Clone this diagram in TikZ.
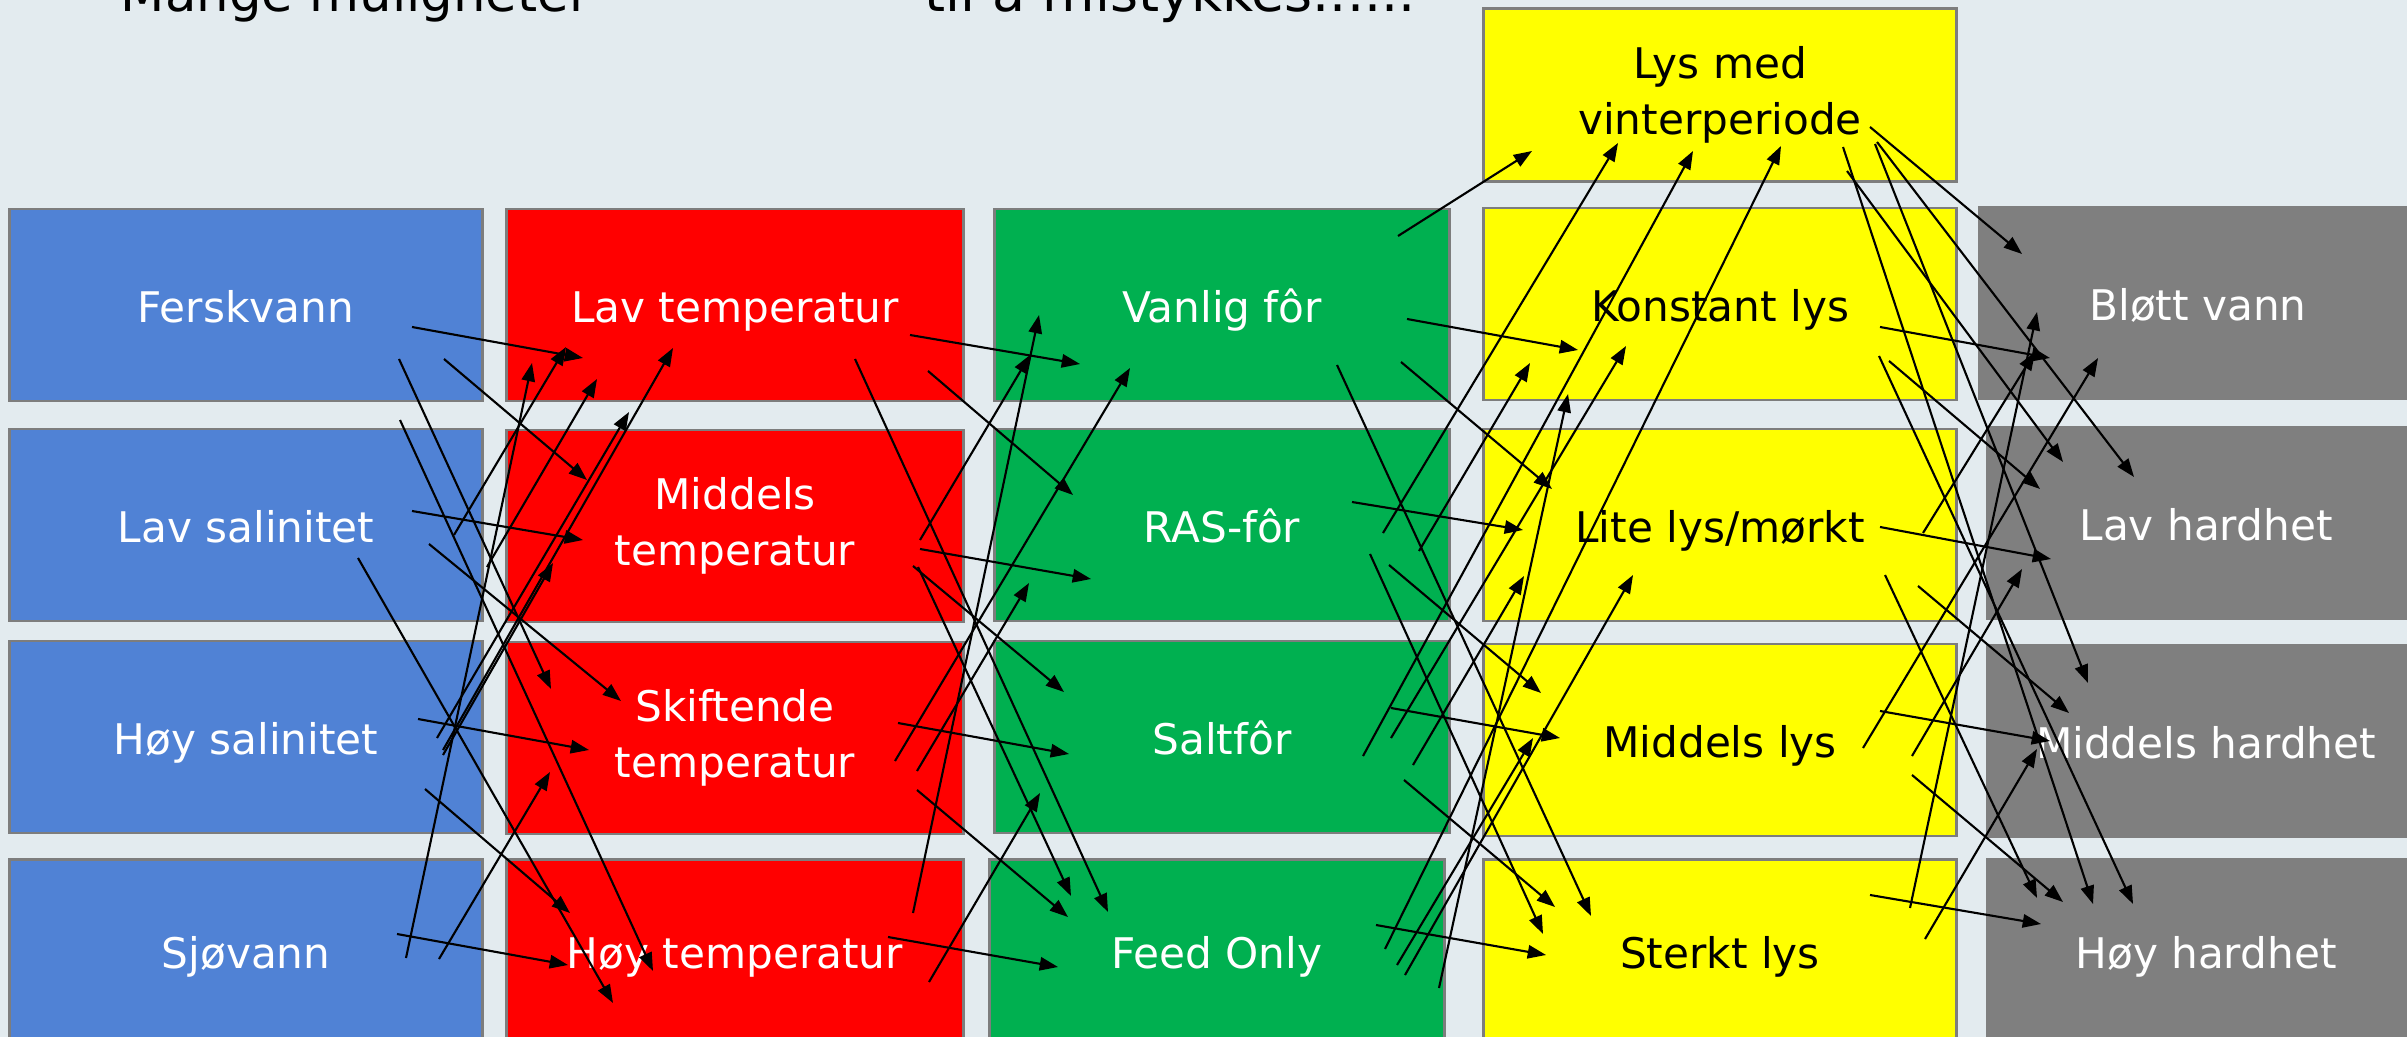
\documentclass[tikz,border=0pt]{standalone}
\usepackage{fontspec}
\setmainfont{DejaVu Sans}
\usetikzlibrary{arrows.meta}

\definecolor{bakgrunn}{RGB}{227,235,239}
\definecolor{blaa}{RGB}{80,130,213}
\definecolor{roed}{RGB}{255,0,0}
\definecolor{groenn}{RGB}{0,176,80}
\definecolor{gul}{RGB}{255,255,0}
\definecolor{graa}{RGB}{127,127,127}
\definecolor{kant}{RGB}{125,125,125}

\begin{document}
\begin{tikzpicture}[x=0.01cm,y=-0.01cm,
  felt/.style={draw=kant,line width=0.8pt,inner sep=0pt,align=center,
    minimum height=1.92cm,text=white,text height=10.2pt,text depth=0pt,
    font=\fontsize{12pt}{16pt}\selectfont},
  tolinjer/.style={text height=,text depth=},
  feltblaa/.style={felt,fill=blaa,minimum width=4.72cm},
  feltroed/.style={felt,fill=roed,minimum width=4.56cm},
  feltgroenn/.style={felt,fill=groenn,minimum width=4.55cm},
  feltgul/.style={felt,fill=gul,minimum width=4.72cm,text=black},
  feltgraa/.style={felt,fill=graa,draw=graa,minimum width=4.37cm},
  nederst/.style={minimum height=1.83cm},
  pil/.style={draw=black,line width=0.6pt,-{Triangle[length=5.2pt,width=3.8pt]}}]

\useasboundingbox (0,0) rectangle (2407,1037);
\fill[bakgrunn] (0,0) rectangle (2407,1037);
\clip (0,0) rectangle (2407,1037);

%title, cut at the top:
\node[anchor=base west,inner sep=0pt,font=\fontsize{14.6pt}{18pt}\selectfont] (titel1) at (120,12) {Mange muligheter};
\node[anchor=base west,inner sep=0pt,font=\fontsize{15.3pt}{18pt}\selectfont] (titel2) at (924,12) {til å mistykkes......};

%vann
\node[feltblaa] (fersk) at (246,305) {Ferskvann};
\node[feltblaa] (lavsal) at (246,525) {Lav salinitet};
\node[feltblaa] (hoysal) at (246,737) {Høy salinitet};
\node[feltblaa,nederst] (sjo) at (246,951) {Sjøvann};

%temperatur
\node[feltroed] (lavtemp) at (735,305) {Lav temperatur};
\node[feltroed,tolinjer] (midtemp) at (735,526) {Middels\\temperatur};
\node[feltroed,tolinjer] (skiftemp) at (735,738) {Skiftende\\temperatur};
\node[feltroed,nederst] (hoytemp) at (735,951) {Høy temperatur};

%fôr
\node[feltgroenn] (vanlig) at (1222,305) {Vanlig fôr};
\node[feltgroenn] (ras) at (1222,525) {RAS-fôr};
\node[feltgroenn] (salt) at (1222,737) {Saltfôr};
\node[feltgroenn,nederst] (feed) at (1217,951) {Feed Only};

%lys
\node[feltgul,tolinjer,minimum height=1.73cm] (vinter) at (1720,95) {Lys med\\vinterperiode};
\node[feltgul] (konstant) at (1720,304) {Konstant lys};
\node[feltgul] (litelys) at (1720,525) {Lite lys/mørkt};
\node[feltgul] (midlys) at (1720,740) {Middels lys};
\node[feltgul,nederst] (sterkt) at (1720,951) {Sterkt lys};

%hardhet
\node[feltgraa] (blott) at (2198,303) {Bløtt vann};
\node[feltgraa] (lavhard) at (2206,523) {Lav hardhet};
\node[feltgraa] (midhard) at (2206,741) {Middels hardhet};
\node[feltgraa,nederst] (hoyhard) at (2206,951) {Høy hardhet};

%arrows: from/dx/dy/to/dx/dy
\foreach \a/\ax/\ay/\b/\bx/\by in {
  fersk/166/22/lavtemp/-152/53, fersk/198/54/midtemp/-148/-46,
  fersk/153/54/skiftemp/-184/-49, fersk/154/115/hoytemp/-82/20,
  lavsal/166/-14/midtemp/-152/14, lavsal/183/19/skiftemp/-114/-37,
  lavsal/112/33/hoytemp/-122/52, lavsal/208/10/lavtemp/-169/42,
  lavsal/241/42/lavtemp/-138/74, hoysal/172/-18/skiftemp/-146/12,
  hoysal/179/52/hoytemp/-165/-38, hoysal/191/1/midtemp/-106/-114,
  hoysal/197/13/lavtemp/-62/43, hoysal/197/18/midtemp/-182/37,
  sjo/151/-17/hoytemp/-167/14, sjo/160/7/lavtemp/-203/58,
  sjo/193/8/skiftemp/-185/34}
  \draw[pil] ([shift={(\ax,\ay)}]\a.center) -- ([shift={(\bx,\by)}]\b.center);

\foreach \a/\ax/\ay/\b/\bx/\by in {
  lavtemp/175/30/vanlig/-142/59, lavtemp/193/66/ras/-149/-30,
  lavtemp/120/54/feed/-109/-39, midtemp/185/23/ras/-131/54,
  midtemp/178/40/salt/-158/-45, midtemp/183/41/feed/-146/-55,
  midtemp/185/14/vanlig/-192/50, hoytemp/178/-38/vanlig/-183/10,
  skiftemp/160/23/vanlig/-92/63, skiftemp/182/33/ras/-193/58,
  skiftemp/163/-15/salt/-153/17, skiftemp/182/52/feed/-149/-34,
  hoytemp/153/-14/feed/-159/16, hoytemp/194/31/salt/-182/56}
  \draw[pil] ([shift={(\ax,\ay)}]\a.center) -- ([shift={(\bx,\by)}]\b.center);

\foreach \a/\ax/\ay/\b/\bx/\by in {
  vanlig/176/-69/vinter/-188/56, vanlig/185/14/konstant/-142/46,
  vanlig/179/57/litelys/-168/-36, vanlig/115/60/sterkt/-129/-35,
  ras/130/-23/litelys/-197/5, ras/148/29/sterkt/-177/-17,
  ras/167/40/midlys/-179/-47, ras/161/8/vinter/-102/48,
  ras/197/26/konstant/-190/59, salt/141/19/vinter/-27/56,
  salt/169/1/konstant/-94/42, salt/191/28/litelys/-196/51,
  salt/169/-29/midlys/-160/-2, salt/182/43/sterkt/-165/-44,
  feed/168/-2/vinter/61/51, feed/222/37/konstant/-152/90,
  feed/180/14/midlys/-187/-2, feed/188/24/litelys/-87/50,
  feed/159/-26/sterkt/-174/4}
  \draw[pil] ([shift={(\ax,\ay)}]\a.center) -- ([shift={(\bx,\by)}]\b.center);

\foreach \a/\ax/\ay/\b/\bx/\by in {
  vinter/150/32/blott/-176/-49, vinter/157/47/lavhard/-72/-46,
  vinter/123/52/hoyhard/-113/-47, vinter/127/76/lavhard/-143/-61,
  vinter/155/49/midhard/-118/-58, konstant/160/23/blott/-148/55,
  konstant/169/57/lavhard/-166/-34, konstant/159/52/hoyhard/-73/-47,
  litelys/160/2/lavhard/-155/36, litelys/203/8/blott/-163/49,
  litelys/165/50/hoyhard/-169/-53, litelys/198/61/midhard/-137/-28,
  midlys/143/8/blott/-100/55, midlys/160/-29/midhard/-156/0,
  midlys/192/16/lavhard/-184/46, midlys/192/35/hoyhard/-143/-49,
  sterkt/150/-56/hoyhard/-165/-27, sterkt/190/-43/blott/-161/9,
  sterkt/205/-12/midhard/-169/8}
  \draw[pil] ([shift={(\ax,\ay)}]\a.center) -- ([shift={(\bx,\by)}]\b.center);

\end{tikzpicture}
\end{document}
